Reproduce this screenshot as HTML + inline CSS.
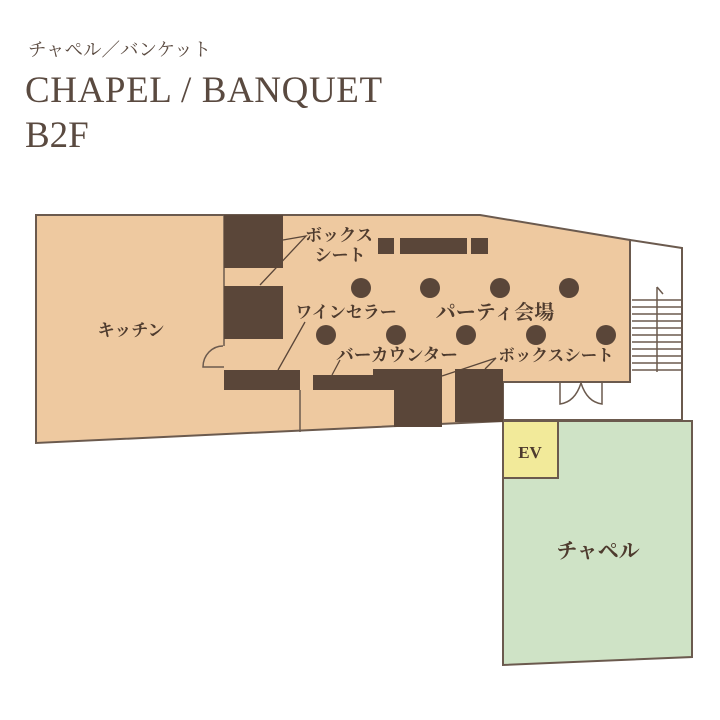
<!DOCTYPE html>
<html><head><meta charset="utf-8"><style>
html,body{margin:0;padding:0;background:#fff;}
svg{display:block}
.j{font-family:"Liberation Serif","Noto Serif CJK SC",serif;font-weight:bold;fill:#4e3b2e;}
</style></head><body>
<svg width="720" height="720" viewBox="0 0 720 720" xmlns="http://www.w3.org/2000/svg">
<rect width="720" height="720" fill="#fff"/>
<text x="28" y="56" font-family="Liberation Serif,'Noto Serif CJK SC',serif" font-size="18.5" fill="#5a4a40">チャペル／バンケット</text>
<text x="25" y="102" font-family="Liberation Serif,serif" font-size="37" fill="#5a4a40" letter-spacing="0.6">CHAPEL / BANQUET</text>
<text x="25" y="147" font-family="Liberation Serif,serif" font-size="37" fill="#5a4a40">B2F</text>

<polygon points="630,240 682,248 682,420 503,420 503,382 630,382" fill="#fff" stroke="#6b5a4e" stroke-width="2"/>
<polygon points="36,215 480,215 630,240 630,382 503,382 503,421 36,443" fill="#eec9a0" stroke="#6b5a4e" stroke-width="2"/>
<polygon points="503,421 692,421 692,657 503,665" fill="#cfe3c6" stroke="#6b5a4e" stroke-width="2"/>
<rect x="503" y="421" width="55" height="57" fill="#f2ea9a" stroke="#6b5a4e" stroke-width="2"/>
<text x="530" y="458" text-anchor="middle" class="j" font-size="17">EV</text>
<text x="598" y="558" text-anchor="middle" class="j" font-size="21">チャペル</text>

<line x1="224" y1="215" x2="224" y2="346" stroke="#6b5a4e" stroke-width="1.5"/>
<line x1="300" y1="390" x2="300" y2="432" stroke="#6b5a4e" stroke-width="1.5"/>
<path d="M223,346 A20,21 0 0 0 203,367 L224,367" fill="none" stroke="#6b5a4e" stroke-width="1.5"/>

<g stroke="#6b5a4e" stroke-width="1.5">
<line x1="632" y1="300" x2="682" y2="300"/><line x1="632" y1="307" x2="682" y2="307"/>
<line x1="632" y1="314" x2="682" y2="314"/><line x1="632" y1="321" x2="682" y2="321"/>
<line x1="632" y1="328" x2="682" y2="328"/><line x1="632" y1="335" x2="682" y2="335"/>
<line x1="632" y1="342" x2="682" y2="342"/><line x1="632" y1="349" x2="682" y2="349"/>
<line x1="632" y1="356" x2="682" y2="356"/><line x1="632" y1="363" x2="682" y2="363"/>
<line x1="632" y1="370" x2="682" y2="370"/>
<line x1="657" y1="372" x2="657" y2="287"/><line x1="657" y1="287" x2="663" y2="294"/>
</g>
<path d="M560,383 L560,404 Q575,402 581,383 Q587,402 602,404 L602,383" fill="none" stroke="#6b5a4e" stroke-width="1.5"/>

<g fill="#5a4639">
<rect x="224" y="215" width="59" height="53"/>
<rect x="224" y="286" width="59" height="53"/>
<rect x="224" y="370" width="76" height="20"/>
<rect x="313" y="375" width="60" height="15"/>
<rect x="373" y="369" width="69" height="21"/>
<rect x="394" y="369" width="48" height="58"/>
<rect x="455" y="369" width="48" height="53"/>
<rect x="378" y="238" width="16" height="16"/>
<rect x="400" y="238" width="67" height="16"/>
<rect x="471" y="238" width="17" height="16"/>
<circle cx="361" cy="288" r="10"/><circle cx="430" cy="288" r="10"/><circle cx="500" cy="288" r="10"/><circle cx="569" cy="288" r="10"/>
<circle cx="326" cy="335" r="10"/><circle cx="396" cy="335" r="10"/><circle cx="466" cy="335" r="10"/><circle cx="536" cy="335" r="10"/><circle cx="606" cy="335" r="10"/>
</g>

<g stroke="#5a4639" stroke-width="1.3" fill="none">
<polyline points="283,240 306,236 260,285"/>
<line x1="305" y1="322" x2="278" y2="370"/>
<line x1="340" y1="360" x2="332" y2="375"/>
<polyline points="442,376 496,358 485,369"/>
</g>

<text x="339" y="241" text-anchor="middle" class="j" font-size="17">ボックス</text>
<text x="340" y="261" text-anchor="middle" class="j" font-size="17">シート</text>
<text x="346" y="318" text-anchor="middle" class="j" font-size="17">ワインセラー</text>
<text x="495" y="319" text-anchor="middle" class="j" font-size="20">パーティ会場</text>
<text x="397" y="361" text-anchor="middle" class="j" font-size="17.5">バーカウンター</text>
<text x="556" y="361" text-anchor="middle" class="j" font-size="16.5">ボックスシート</text>
<text x="131" y="336" text-anchor="middle" class="j" font-size="17">キッチン</text>
</svg>
</body></html>
